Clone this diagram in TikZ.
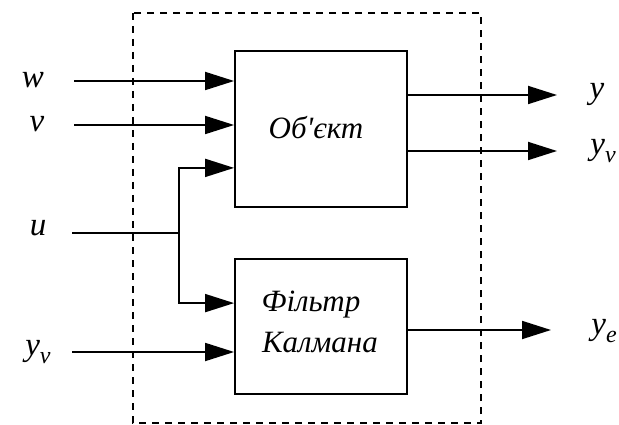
\documentclass[tikz,border=0pt]{standalone}
\usepackage{fontspec}
\setmainfont{Liberation Serif}
\newfontfamily\boxfont{Liberation Serif}[Ligatures=TeXOff]
\usetikzlibrary{arrows.meta}
\newcommand{\subv}[1]{\textit{y}\raisebox{-8pt}{\fontsize{24}{24}\selectfont\textit{#1}}}
\begin{document}
\begin{tikzpicture}[x=1pt,y=-1pt, line width=1.8pt,
  >={Triangle[length=29pt,width=18pt]},
  blk/.style={draw, line width=1.8pt, minimum width=172pt, inner sep=0pt},
  btxt/.style={inner sep=0pt, font=\boxfont\fontsize{31}{31}\selectfont\itshape},
  lbl/.style={inner sep=0pt, font=\fontsize{33}{33}\selectfont\itshape},
  frame/.style={draw, line width=1.6pt, dash pattern=on 7pt off 6pt}]
\useasboundingbox (0,0) rectangle (619,425);
\draw[frame] (133,13) rectangle (481,423);
\node[blk, minimum height=156pt] (obj) at (321,129) {};
\node[blk, minimum height=135pt] (kf) at (321,326.5) {};
\node[btxt] (objt) at (316,128) {Об'єкт};
\node[btxt] (kft1) at (311,305) {Фільтр};
\node[btxt] (kft2) at (320,343) {Калмана};
% input labels
\node[lbl] (lw) at (33,80) {w};
\node[lbl] (lv) at (37,124) {v};
\node[lbl] (lu) at (38,228) {u};
\node[lbl] (lyv) at (38,352) {\subv{v}};
% output labels
\node[lbl] (ly) at (597,94) {y};
\node[lbl] (lyvo) at (603,151) {\subv{v}};
\node[lbl] (lye) at (604,331) {\subv{e}};
% free ends
\coordinate (sw) at (74,81);
\coordinate (sv) at (74,125);
\coordinate (su) at (72,233);
\coordinate (syv) at (72,352);
\coordinate (br) at (179,233);
\coordinate (eo1) at (557,95);
\coordinate (eo2) at (557,151);
\coordinate (eo3) at (551,330);
% connectors
\draw[->] (sw) -- (sw -| obj.west);
\draw[->] (sv) -- (sv -| obj.west);
\draw (su) -- (br);
\draw[->] (br) |- ([yshift=40pt]obj.south west);
\draw[->] (br) |- ([yshift=-45pt]kf.north west);
\draw[->] (syv) -- (syv -| kf.west);
\draw[->] (eo1 -| obj.east) -- (eo1);
\draw[->] (eo2 -| obj.east) -- (eo2);
\draw[->] (eo3 -| kf.east) -- (eo3);
\end{tikzpicture}
\end{document}
